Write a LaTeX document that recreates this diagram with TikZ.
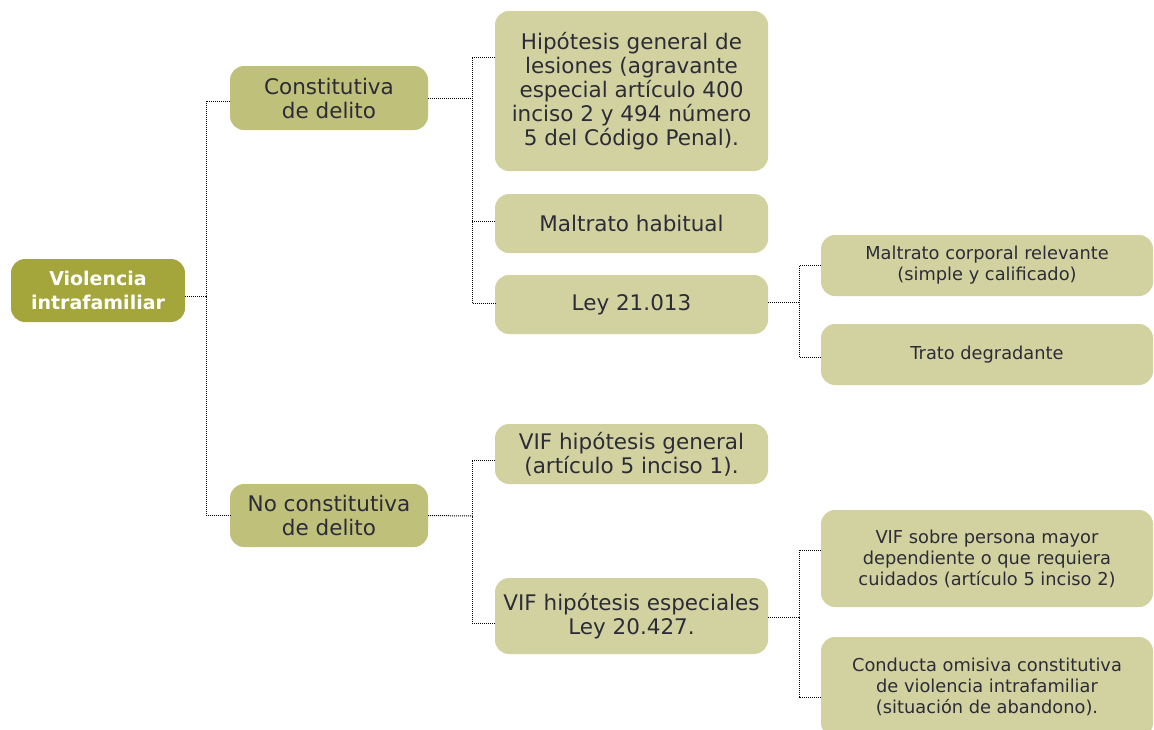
\documentclass[tikz,border=0pt]{standalone}
\usepackage{fontspec}
\setmainfont{DejaVu Sans}
\definecolor{rootc}{HTML}{A4A63C}
\definecolor{midc}{HTML}{BFC07A}
\definecolor{lightc}{HTML}{D2D2A0}
\definecolor{txt}{HTML}{2C2C38}
\begin{document}
\begin{tikzpicture}[x=1pt,y=-1pt,
  box/.style={rounded corners=14pt, inner sep=0pt, align=center, text=txt, draw=none},
  rootbox/.style={box, fill=rootc, text=white, font=\fontsize{19}{24}\selectfont\bfseries},
  midbox/.style={box, fill=midc, font=\fontsize{21.5}{24}\selectfont},
  leafbox/.style={box, fill=lightc, font=\fontsize{21.5}{24}\selectfont},
  smallbox/.style={box, fill=lightc, font=\fontsize{17.8}{21}\selectfont},
  conn/.style={dash pattern=on 1pt off 1pt, line width=1pt, draw=black}]
\useasboundingbox (0,0) rectangle (1154,729);
\node[rootbox, minimum width=174pt, minimum height=63pt] (root) at (98,290.5) {Violencia\\intrafamiliar};
\node[midbox, minimum width=198pt, minimum height=64pt] (cons) at (329,98) {Constitutiva\\de delito};
\node[midbox, minimum width=198pt, minimum height=63pt] (nocons) at (329,515.5) {No constitutiva\\de delito};
\node[leafbox, minimum width=273pt, minimum height=160pt] (hip) at (631.5,91) {Hipótesis general de\\lesiones (agravante\\especial artículo 400\\inciso 2 y 494 número\\5 del Código Penal).};
\node[leafbox, minimum width=273pt, minimum height=59pt] (mh) at (631.5,223.5) {Maltrato habitual};
\node[leafbox, minimum width=273pt, minimum height=59pt] (ley) at (631.5,304.5) {Ley 21.013};
\node[smallbox, minimum width=332pt, minimum height=61pt] (mc) at (987,265.5) {Maltrato corporal relevante\\(simple y calificado)};
\node[smallbox, minimum width=332pt, minimum height=61pt] (td) at (987,354.5) {Trato degradante};
\node[leafbox, minimum width=273pt, minimum height=60pt] (vg) at (631.5,454) {VIF hipótesis general\\(artículo 5 inciso 1).};
\node[leafbox, minimum width=273pt, minimum height=76pt] (ve) at (631.5,616) {VIF hipótesis especiales\\Ley 20.427.};
\node[smallbox, minimum width=332pt, minimum height=97pt] (vm) at (987,558.5) {VIF sobre persona mayor\\dependiente o que requiera\\cuidados (artículo 5 inciso 2)};
\node[smallbox, minimum width=332pt, minimum height=100pt] (co) at (987,687) {Conducta omisiva constitutiva\\de violencia intrafamiliar\\(situación de abandono).};
% connectors
\coordinate (a0) at (206,296);
\coordinate (b0) at (472,98);
\coordinate (c0) at (799,302);
\coordinate (d0) at (472,516);
\coordinate (e0) at (799,617);
\draw[conn] ([yshift=-5.5pt]root.east) -- (a0);
\draw[conn] ([yshift=-3pt]cons.west) -| (a0) |- (nocons.west);
\draw[conn] (cons.east) -- (b0);
\draw[conn] ([yshift=34pt]hip.west) -| (b0) |- ([yshift=1pt]ley.west);
\draw[conn] ([yshift=2.5pt]mh.west) -- ([yshift=2.5pt]mh.west -| b0);
\draw[conn] ([yshift=2.5pt]ley.east) -- (c0);
\draw[conn] (mc.west) -| (c0) |- ([yshift=-2.5pt]td.west);
\draw[conn] (nocons.east) -- (d0);
\draw[conn] ([yshift=-6pt]vg.west) -| (d0) |- ([yshift=-7pt]ve.west);
\draw[conn] ([yshift=-1pt]ve.east) -- (e0);
\draw[conn] ([yshift=8.5pt]vm.west) -| (e0) |- ([yshift=-10pt]co.west);
\end{tikzpicture}
\end{document}
